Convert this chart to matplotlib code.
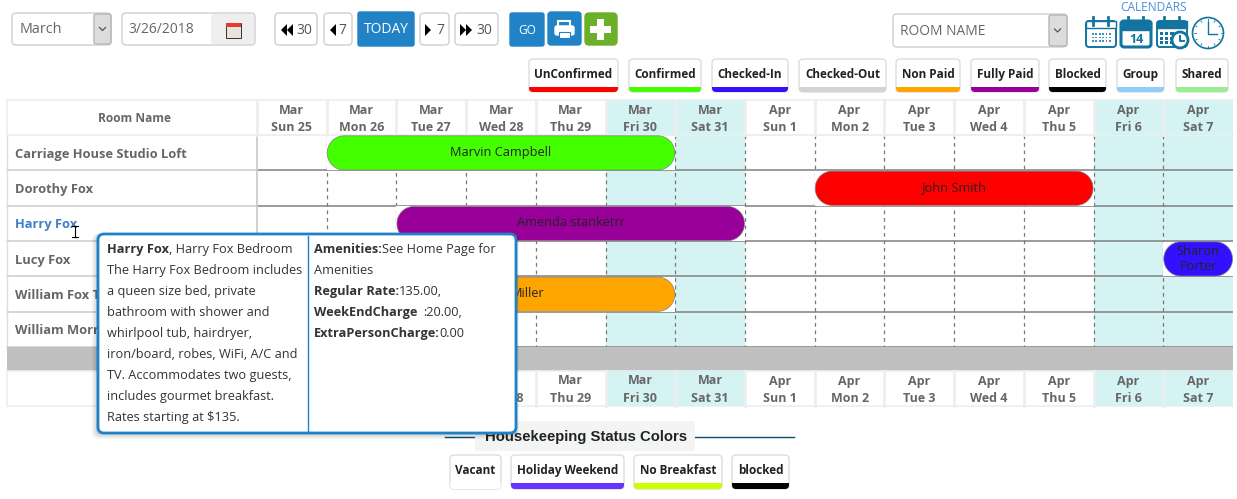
import matplotlib
matplotlib.use("Agg")
import matplotlib.pyplot as plt
import numpy as np
from matplotlib.patches import FancyBboxPatch, Rectangle, Polygon, Circle

plt.rcParams['font.family'] = ['Open Sans', 'DejaVu Sans']

W, H = 1237, 499

# ---------- data ----------
months = ["Mar"] * 7 + ["Apr"] * 7
days = ["Sun 25", "Mon 26", "Tue 27", "Wed 28", "Thu 29", "Fri 30", "Sat 31",
        "Sun 1", "Mon 2", "Tue 3", "Wed 4", "Thu 5", "Fri 6", "Sat 7"]
weekend = [5, 6, 12, 13]
rooms = ["Carriage House Studio Loft", "Dorothy Fox", "Harry Fox", "Lucy Fox",
         "William Fox T", "William Morr"]
room_colors = ["#666666", "#666666", "#3f7fc4", "#666666", "#666666", "#666666"]

booking_names = ["Marvin Campbell", "John Smith", "Amenda stanketrr", "Sharon\nPorter", "Miller"]
booking_rooms = [0, 1, 2, 3, 4]
booking_start = [1, 8, 2, 13, 2]
booking_end = [6, 12, 7, 14, 6]
booking_colors = ["#44ff00", "#ff0000", "#990099", "#3311ff", "#ffa500"]

legend_labels = ["UnConfirmed", "Confirmed", "Checked-In", "Checked-Out", "Non Paid",
                 "Fully Paid", "Blocked", "Group", "Shared"]
legend_colors = ["#ff0000", "#44ff00", "#3311ff", "#d3d3d3", "#ffa500",
                 "#990099", "#000000", "#8fcdfb", "#98ee90"]
legend_left = [529, 629, 712, 799, 896, 971, 1049, 1117, 1176]
legend_right = [618, 701, 788, 886, 960, 1039, 1106, 1164, 1228]

hk_labels = ["Vacant", "Holiday Weekend", "No Breakfast", "blocked"]
hk_colors = ["#ffffff", "#6633ff", "#ccff00", "#000000"]
hk_left = [450, 511, 634, 732]
hk_right = [501, 624, 722, 789]

tip_left = [("Harry Fox", ", Harry Fox Bedroom"),
            ("", "The Harry Fox Bedroom includes"),
            ("", "a queen size bed, private"),
            ("", "bathroom with shower and"),
            ("", "whirlpool tub, hairdryer,"),
            ("", "iron/board, robes, WiFi, A/C and"),
            ("", "TV. Accommodates two guests,"),
            ("", "includes gourmet breakfast."),
            ("", "Rates starting at $135.")]
tip_right = [("Amenities:", "See Home Page for"),
             ("", "Amenities"),
             ("Regular Rate:", "135.00,"),
             ("WeekEndCharge ", ":20.00,"),
             ("ExtraPersonCharge:", "0.00")]

# ---------- axes ----------
fig = plt.figure(figsize=(W / 100, H / 100), dpi=100, facecolor="white")
GX0, GX1, GY0, GY1 = 257, 1233, 135, 347
gx = fig.add_axes([GX0 / W, 1 - GY1 / H, (GX1 - GX0) / W, (GY1 - GY0) / H])
gx.set_xlim(0, len(days))
gx.set_ylim(len(rooms), 0)
gx.axis("off")
ax = fig.add_axes([0, 0, 1, 1], facecolor="none")
ax.set_xlim(0, W)
ax.set_ylim(H, 0)
ax.axis("off")

GRAY = "#666666"
BLUE = "#1e82c8"
renderer = fig.canvas.get_renderer()


def to_px(d, r):
    p = gx.transData.transform((d, r))
    return ax.transData.inverted().transform(p)


def box(x0, y0, x1, y1, fc="white", ec="#cfcfcf", r=4, lw=1.0, z=3):
    b = FancyBboxPatch((x0, y0), x1 - x0, y1 - y0, boxstyle=f"round,pad=0,rounding_size={r}",
                       fc=fc, ec=ec, lw=lw, zorder=z)
    ax.add_patch(b)
    return b


def pill(x0, y0, x1, y1, r, fc, ec, lw, z):
    """Rounded bar with true circular ends."""
    r = min(r, (y1 - y0) / 2, (x1 - x0) / 2)
    pts = []
    for cx, cy, a0 in ((x1 - r, y0 + r, -90), (x1 - r, y1 - r, 0), (x0 + r, y1 - r, 90), (x0 + r, y0 + r, 180)):
        t = np.radians(np.linspace(a0, a0 + 90, 16))
        pts.extend(zip(cx + r * np.cos(t), cy + r * np.sin(t)))
    ax.add_patch(Polygon(pts, closed=True, fc=fc, ec=ec, lw=lw, zorder=z))


# ---------- grid ----------
for d in weekend:
    gx.axvspan(d, d + 1, color="#d6f3f3", lw=0, zorder=0)
for d in range(1, len(days)):
    gx.plot([d, d], [0, len(rooms)], color="#777777", lw=0.9, ls=(0, (3, 3)), zorder=1)
for r in range(1, len(rooms) + 1):
    gx.plot([0, len(days)], [r, r], color="#808080", lw=1.1, zorder=1)
gx.plot([0, 0], [0, len(rooms)], color="#c8c8c8", lw=1.2, zorder=1, clip_on=False)
gx.plot([0, len(days)], [0, 0], color="#eeeeee", lw=1.2, zorder=1, clip_on=False)

# name column
for i, name in enumerate(rooms):
    _, yt = to_px(0, i)
    _, yb = to_px(0, i + 1)
    ax.plot([7, GX0], [yb, yb], color="#cccccc", lw=1.1, zorder=1)
    ax.text(15, (yt + yb) / 2 + 0.5, name, fontsize=9.3, fontweight="bold", color=room_colors[i],
            va="center", ha="left", zorder=2)
ax.plot([7, 7], [GY0, GY1], color="#dddddd", lw=1, zorder=1)

# separator band
ax.add_patch(Rectangle((7, GY1), GX1 - 7, 24, fc="#c0c0c0", ec="none", zorder=1))

# headers
for top, bot, first in ((100, 135, True), (371, 406, False)):
    ax.plot([7, GX1], [top, top], color="#eeeeee", lw=1.2, zorder=1)
    ax.plot([7, GX1], [bot, bot], color="#eeeeee", lw=1.2, zorder=1)
    ax.plot([7, 7], [top, bot], color="#eeeeee", lw=1.2, zorder=1)
    for i, (m, d) in enumerate(zip(months, days)):
        x0, _ = to_px(i, 0)
        x1, _ = to_px(i + 1, 0)
        if i in weekend:
            ax.add_patch(Rectangle((x0, top), x1 - x0, bot - top, fc="#d6f3f3", ec="none", zorder=1))
        ax.plot([x0, x0], [top, bot], color="#eeeeee", lw=2, zorder=1.5)
        xc = (x0 + x1) / 2
        if first or i >= 3:  # the tooltip covers the first lower headers
            ax.text(xc, top + 9, m, fontsize=9, fontweight="bold", color=GRAY, ha="center", va="center", zorder=2)
            ax.text(xc, top + 26, d, fontsize=9, fontweight="bold", color=GRAY, ha="center", va="center", zorder=2)
ax.text(135, 117, "Room Name", fontsize=8.6, fontweight="bold", color=GRAY, ha="center", va="center", zorder=2)

# ---------- bookings ----------
for name, r, s, e, c in zip(booking_names, booking_rooms, booking_start, booking_end, booking_colors):
    x0, y0 = to_px(s, r)
    x1, y1 = to_px(e, r + 1)
    ax.add_patch(Rectangle((x0, y0 + 0.6), x1 - x0, y1 - y0 - 0.6, fc="white", ec="none", zorder=2))
    pill(x0 + 0.5, y0 + 0.8, x1 - 0.5, y1 - 0.3, 17, c, "#808080", 0.5, 2.2)
    xt = (x0 + x1) / 2
    if name == "Miller":
        xt = x0 + 131
    two_line = "\n" in name
    ax.text(xt, (y0 + y1) / 2 + (-1 if two_line else -3), name, fontsize=9.2, color="#222222", ha="center",
            va="center" if two_line else "center_baseline", zorder=2.4, linespacing=1.2)

# ---------- toolbar ----------
box(12, 13, 111, 45, r=4)
box(94, 14, 111, 44, fc="#dcdcdc", ec="#b4b4b4", r=2)
ax.plot([99.5, 102.5, 105.5], [27.5, 30.5, 27.5], color="#555555", lw=0.9, zorder=4)
ax.text(20, 28.5, "March", fontsize=10.4, color="#666666", va="center", zorder=4)

box(122, 13, 255, 45, r=4)
box(211, 14, 254, 44, fc="#eeeeee", ec="none", r=3)
ax.add_patch(Rectangle((226, 23), 15, 15, fc="#e8e4da", ec="#333333", lw=0.7, zorder=4))
ax.add_patch(Rectangle((226, 23), 15, 3.5, fc="#e63a2e", ec="none", zorder=5))
ax.text(128, 28.5, "3/26/2018", fontsize=10, color="#666666", va="center", zorder=4)


def tri(x, y, right=True, h=6, w=6):
    pts = [(x, y - h), (x, y + h), (x + w, y)] if right else [(x + w, y - h), (x + w, y + h), (x, y)]
    ax.add_patch(Polygon(pts, fc="black", ec="none", zorder=4))


box(275, 13, 317, 45, r=4)
tri(281, 30, False); tri(287, 30, False)
ax.text(296, 29, "30", fontsize=10, color="#555555", va="center", zorder=4)
box(324, 13, 352, 45, r=4)
tri(330, 30, False)
ax.text(338, 29, "7", fontsize=10, color="#555555", va="center", zorder=4)
box(358, 12, 414, 46, fc="#2183c6", ec="#2183c6", r=2)
ax.text(386, 28.5, "TODAY", fontsize=10, color="white", va="center", ha="center", zorder=4)
box(420, 13, 449, 45, r=4)
tri(425, 30, True)
ax.text(436, 29, "7", fontsize=10, color="#555555", va="center", zorder=4)
box(455, 13, 498, 45, r=4)
tri(460, 30, True); tri(466, 30, True)
ax.text(476, 29, "30", fontsize=10, color="#555555", va="center", zorder=4)
box(510, 13, 544, 46, fc="#2183c6", ec="#2183c6", r=2)
ax.text(527, 29.5, "GO", fontsize=8.6, color="white", va="center", ha="center", zorder=4)
box(548, 12, 581, 45, fc="#2183c6", ec="#2183c6", r=3)
ax.add_patch(Rectangle((558, 21), 12, 7, fc="#2183c6", ec="white", lw=1.5, zorder=4))
box(555, 26, 574, 35, fc="white", ec="white", r=2, z=4)
ax.add_patch(Rectangle((559, 32), 11, 6, fc="white", ec="#2183c6", lw=0.8, zorder=5))
box(585, 13, 617, 45, fc="#6cb02a", ec="#6cb02a", r=4)
ax.add_patch(Rectangle((597, 19), 7, 21, fc="white", ec="none", zorder=4))
ax.add_patch(Rectangle((590, 26), 21, 7, fc="white", ec="none", zorder=4))

# room select
box(893, 14, 1067, 47, r=4)
box(1049, 15, 1067, 46, fc="#dcdcdc", ec="#b4b4b4", r=2)
ax.plot([1054.5, 1057.5, 1060.5], [29, 32, 29], color="#555555", lw=0.9, zorder=4)
ax.text(900, 30.5, "ROOM NAME", fontsize=9.9, color="#666666", va="center", zorder=4)

# calendar icons
IC = "#13759f"
ax.text(1154, 6.5, "CALENDARS", fontsize=8.6, color="#4a90d9", ha="center", va="center", zorder=4)
for x0, fill in ((1085, False), (1120, True), (1156, False)):
    box(x0 + 1, 21, x0 + 31, 47, fc="white", ec=IC, r=3, lw=1.4 if not fill else 2.2)
    ax.add_patch(Rectangle((x0 + 1, 21), 30, 7 if not fill else 9, fc=IC if x0 != 1085 else "white", ec=IC, lw=1, zorder=3.5))
    for dx in (8, 23):
        ax.plot([x0 + dx, x0 + dx], [17, 25], color=IC, lw=2, zorder=4)
for i in range(6):
    for j in range(3):
        ax.add_patch(Rectangle((1092 + i * 3.4, 33 + j * 3.6), 1.8, 1.8, fc="#3f93b8", ec="none", zorder=4))
ax.text(1136, 38.5, "14", fontsize=9, fontweight="bold", color=IC, ha="center", va="center", zorder=4)
for i in range(3):
    for j in range(3):
        ax.add_patch(Rectangle((1160 + i * 5.2, 32 + j * 4.6), 3.2, 3.2, fc=IC, ec="none", zorder=4))
ax.add_patch(Circle((1180, 40), 8, fc="white", ec=IC, lw=2, zorder=4.5))
ax.plot([1180, 1180, 1184], [35.5, 40.5, 40.5], color=IC, lw=1.4, zorder=5)
ax.add_patch(Circle((1208, 33), 15.5, fc="white", ec=IC, lw=1.2, zorder=4))
ax.plot([1208, 1208, 1217], [22, 34, 34], color=IC, lw=1, zorder=5)
for a in np.radians(np.arange(0, 360, 30)):
    ax.plot([1208 + 12.5 * np.cos(a), 1208 + 14 * np.cos(a)], [33 + 12.5 * np.sin(a), 33 + 14 * np.sin(a)],
            color=IC, lw=0.6, zorder=5)

# ---------- status legend ----------
for lab, col, x0, x1 in zip(legend_labels, legend_colors, legend_left, legend_right):
    b = box(x0, 59, x1, 92, fc="white", ec="#dddddd", r=4)
    bar = Rectangle((x0, 87), x1 - x0, 6, fc=col, ec="none", zorder=3.2)
    ax.add_patch(bar)
    bar.set_clip_path(b)
    ax.text((x0 + x1) / 2, 71.6, lab, fontsize=8.5, fontweight="bold", color="#222222", ha="center",
            va="center_baseline", zorder=4)

# ---------- housekeeping ----------
ax.plot([445, 794], [437, 437], color="#0a4f6e", lw=1, zorder=1)
ax.add_patch(Rectangle((475, 421), 220, 30, fc="#f3f5f5", ec="none", zorder=2))
ax.text(485, 436, "Housekeeping Status Colors", fontsize=10.7, fontweight="bold", family="Liberation Sans",
        color="#222222", va="center", ha="left", zorder=3)
for lab, col, x0, x1 in zip(hk_labels, hk_colors, hk_left, hk_right):
    b = box(x0, 455, x1, 489, fc="white", ec="#dddddd", r=4)
    bar = Rectangle((x0, 483), x1 - x0, 6, fc=col, ec="none", zorder=3.2)
    ax.add_patch(bar)
    bar.set_clip_path(b)
    ax.text((x0 + x1) / 2, 467.6, lab, fontsize=8.5, fontweight="bold", color="#222222", ha="center",
            va="center_baseline", zorder=4)

# ---------- tooltip ----------
for off, a in ((6, 0.05), (4, 0.07), (2, 0.10)):
    box(98 - off, 234, 516 + off / 2, 433 + off, fc="black", ec="none", r=6, z=5)
    ax.patches[-1].set_alpha(a)
box(98, 234, 516, 433, fc="white", ec=BLUE, r=6, lw=2.0, z=5.2)
ax.plot([307.5, 307.5], [236, 431], color=BLUE, lw=1, zorder=5.3)


def rich(x, y, bold, regular):
    xx = x
    if bold:
        t = ax.text(xx, y, bold, fontsize=9.2, fontweight="bold", color="#333333", va="center", ha="left", zorder=5.5)
        xx += t.get_window_extent(renderer).width
        if bold.endswith(" "):
            xx += 2
    if regular:
        ax.text(xx, y, regular, fontsize=9.2, color="#333333", va="center", ha="left", zorder=5.5)


for i, (b, t) in enumerate(tip_left):
    rich(107, 248.5 + i * 21, b, t)
for i, (b, t) in enumerate(tip_right):
    rich(314, 248.5 + i * 21, b, t)

# I-beam cursor
ax.plot([75, 75], [226, 237], color="black", lw=0.8, zorder=6)
ax.plot([72, 78], [226, 226], color="black", lw=0.8, zorder=6)
ax.plot([72, 78], [237, 237], color="black", lw=0.8, zorder=6)

# all labels sit one pixel lower than the computed text centre
for t in ax.texts:
    t.set_y(t.get_position()[1] + 1)

fig.savefig("out.png", dpi=100, facecolor="white")
